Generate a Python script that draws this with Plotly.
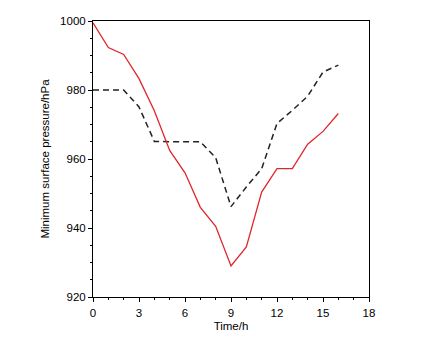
import plotly.graph_objects as go

time_h = list(range(0, 17))
obs = [999.5, 992.3, 990.3, 983.3, 974.0, 962.5, 956.0, 946.0, 940.5, 929.0, 934.5, 950.4, 957.2, 957.2, 964.3, 968.0, 973.2]
sim = [980, 980, 980, 975.1, 965.1, 965, 965, 965, 960.4, 946.2, 951.9, 957.2, 970.3, 974.1, 978.2, 985.2, 987.2]

x_ticks = [0, 3, 6, 9, 12, 15, 18]
y_ticks = [920, 940, 960, 980, 1000]

fig = go.Figure()
fig.add_trace(go.Scatter(x=time_h, y=sim, mode="lines",
                         line=dict(color="#222222", width=1.5, dash="6px,4px"),
                         showlegend=False))
fig.add_trace(go.Scatter(x=time_h, y=obs, mode="lines",
                         line=dict(color="#e0262b", width=1.3),
                         showlegend=False))

axis_common = dict(showline=True, linecolor="black", linewidth=1, mirror=True,
                   ticks="outside", ticklen=4, tickwidth=1, tickcolor="black",
                   showgrid=False, zeroline=False, automargin=False,
                   tickfont=dict(family="Liberation Sans, Arial", size=11.5, color="black"))

fig.update_xaxes(range=[0, 18], tickvals=x_ticks, ticklabelstandoff=1,
                 minor=dict(dtick=1, ticks="outside", ticklen=2, tickcolor="black"),
                 title=dict(text="Time/h", font=dict(family="Liberation Sans, Arial", size=11.5, color="black"), standoff=4),
                 **axis_common)
fig.update_yaxes(range=[920, 1000], tickvals=y_ticks,
                 minor=dict(dtick=5, ticks="outside", ticklen=2, tickcolor="black"),
                 title=dict(text="Minimum surface pressure/hPa", font=dict(family="Liberation Sans, Arial", size=11.5, color="black"), standoff=8),
                 **axis_common)

fig.update_layout(width=429, height=338, margin=dict(l=93, r=60, t=21, b=41),
                  paper_bgcolor="white", plot_bgcolor="white")
fig.write_html("out.html")
